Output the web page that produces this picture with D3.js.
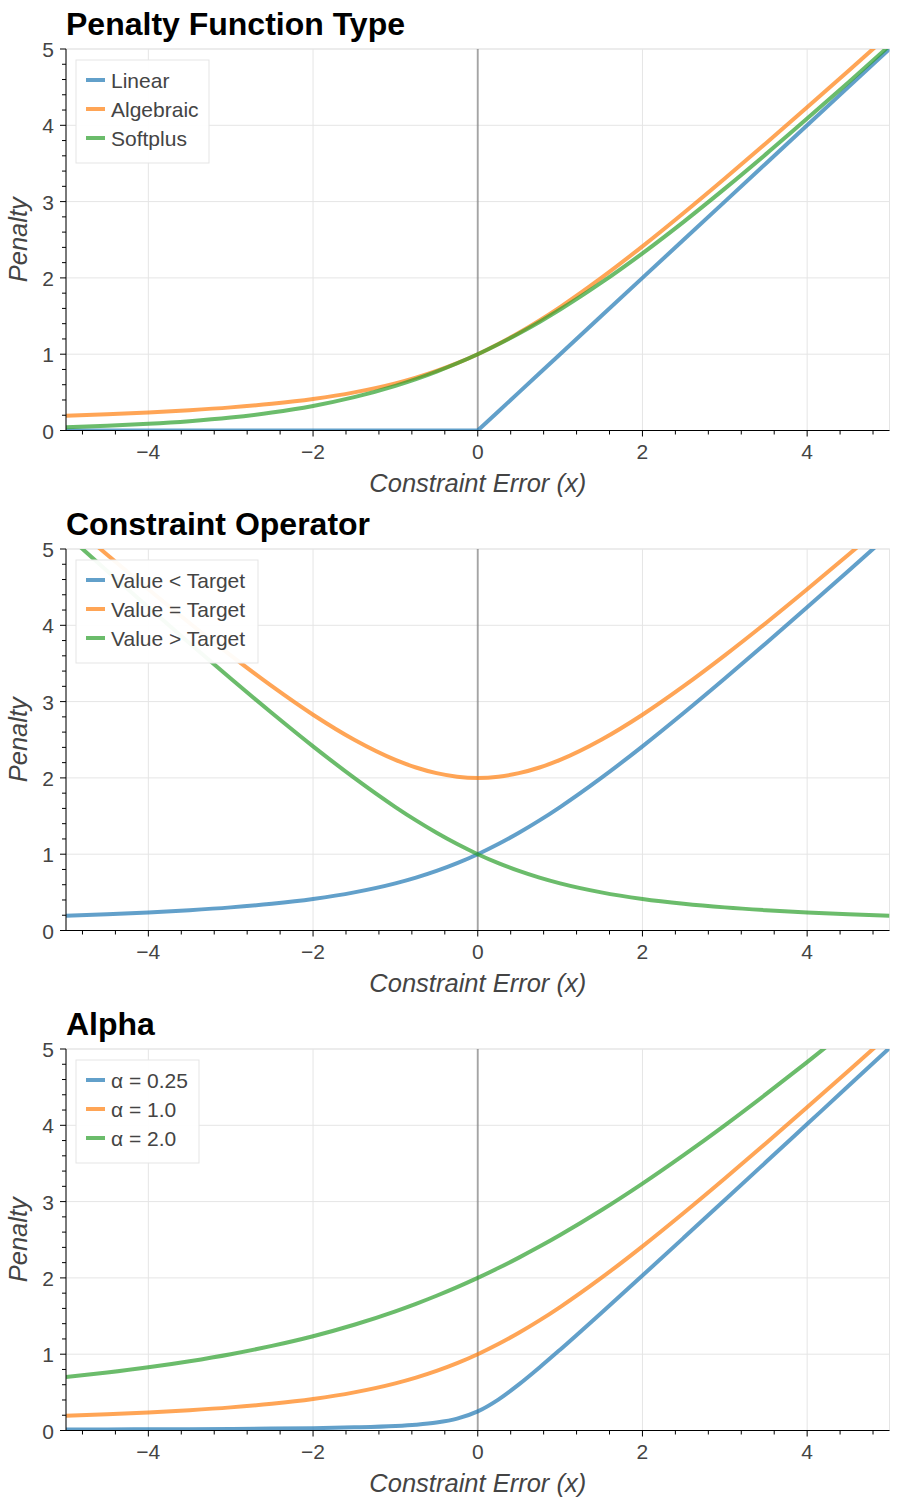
<!DOCTYPE html>
<html>
<head>
<meta charset="utf-8">
<script src="https://cdn.jsdelivr.net/npm/d3@7"></script>
<style>
  body { margin: 0; background: #fff; }
  svg text { font-family: "Liberation Sans", Arial, Helvetica, sans-serif; }
</style>
</head>
<body>
<div id="chart"></div>
<script>
const xValues = [-5, -4.5, -4, -3.5, -3, -2.5, -2, -1.5, -1, -0.75, -0.5, -0.25, 0,
    0.25, 0.5, 0.75, 1, 1.5, 2, 2.5, 3, 3.5, 4, 4.5, 5];

// Panel 1: Penalty Function Type
const linearValues = [0, 0, 0, 0, 0, 0, 0, 0, 0, 0, 0, 0, 0,
    0.25, 0.5, 0.75, 1, 1.5, 2, 2.5, 3, 3.5, 4, 4.5, 5];
const algebraicValues = [0.193, 0.212, 0.236, 0.266, 0.303, 0.351, 0.414, 0.5, 0.618, 0.693, 0.781, 0.883, 1,
    1.133, 1.281, 1.443, 1.618, 2.0, 2.414, 2.851, 3.303, 3.766, 4.236, 4.712, 5.193];
const softplusValues = [0.044, 0.062, 0.087, 0.122, 0.170, 0.235, 0.322, 0.437, 0.585, 0.673, 0.772, 0.881, 1,
    1.131, 1.272, 1.423, 1.585, 1.937, 2.322, 2.735, 3.170, 3.622, 4.088, 4.562, 5.044];

// Panel 2: Constraint Operator
const lessValues = [0.193, 0.212, 0.236, 0.266, 0.303, 0.351, 0.414, 0.5, 0.618, 0.693, 0.781, 0.883, 1,
    1.133, 1.281, 1.443, 1.618, 2.0, 2.414, 2.851, 3.303, 3.766, 4.236, 4.712, 5.193];
const equalValues = [5.385, 4.924, 4.472, 4.031, 3.606, 3.202, 2.828, 2.5, 2.236, 2.136, 2.062, 2.016, 2,
    2.016, 2.062, 2.136, 2.236, 2.5, 2.828, 3.202, 3.606, 4.031, 4.472, 4.924, 5.385];
const greaterValues = [5.193, 4.712, 4.236, 3.766, 3.303, 2.851, 2.414, 2.0, 1.618, 1.443, 1.281, 1.133, 1,
    0.883, 0.781, 0.693, 0.618, 0.5, 0.414, 0.351, 0.303, 0.266, 0.236, 0.212, 0.193];

// Panel 3: Alpha
const alpha025Values = [0.013, 0.014, 0.016, 0.018, 0.021, 0.025, 0.031, 0.041, 0.059, 0.076, 0.104, 0.155, 0.25,
    0.405, 0.604, 0.826, 1.059, 1.541, 2.031, 2.525, 3.021, 3.518, 4.016, 4.514, 5.013];
const alpha1Values = [0.193, 0.212, 0.236, 0.266, 0.303, 0.351, 0.414, 0.5, 0.618, 0.693, 0.781, 0.883, 1,
    1.133, 1.281, 1.443, 1.618, 2.0, 2.414, 2.851, 3.303, 3.766, 4.236, 4.712, 5.193];
const alpha2Values = [0.702, 0.760, 0.828, 0.908, 1.0, 1.109, 1.236, 1.386, 1.562, 1.660, 1.766, 1.879, 2,
    2.129, 2.266, 2.410, 2.562, 2.886, 3.236, 3.609, 4.0, 4.408, 4.828, 5.260, 5.702];

// Panel titles and legend labels
const panelTitles = ["Penalty Function Type", "Constraint Operator", "Alpha"];
const legendLabels = [
    ["Linear", "Algebraic", "Softplus"],
    ["Value < Target", "Value = Target", "Value > Target"],
    ["α = 0.25", "α = 1.0", "α = 2.0"]
];
const panelSeries = [
    [linearValues, algebraicValues, softplusValues],
    [lessValues, equalValues, greaterValues],
    [alpha025Values, alpha1Values, alpha2Values]
];

const xTicks = [-4, -2, 0, 2, 4];
const yTicks = [0, 1, 2, 3, 4, 5];

const colors = ["#1f77b4", "#ff7f0e", "#2ca02c"];

// Overall sizes
const width = 900, height = 1500;
const panelPitch = 500;
const margin = { top: 49, left: 66, right: 10 };
const plotHeight = 381.5;
const plotWidth = width - margin.left - margin.right - 0.5;

const svg = d3.select("#chart").append("svg")
    .attr("width", width)
    .attr("height", height);

// Scales shared by all panels
const xScale = d3.scaleLinear().domain([-5, 5]).range([0, plotWidth]);
const yScale = d3.scaleLinear().domain([0, 5]).range([plotHeight, 0]);

// Minor tick positions
const xMinor = d3.range(-12, 13).map(i => i * 0.4).filter(v => v >= -5.001 && v <= 5.001 && Math.abs(v / 2 - Math.round(v / 2)) > 0.01);
const yMinor = d3.range(0, 26).map(i => i * 0.2).filter(v => Math.abs(v - Math.round(v)) > 0.01);

const fmt = d => d < 0 ? "\u2212" + Math.abs(d) : String(d);

panelTitles.forEach((title, p) => {
    const top = margin.top + p * panelPitch;
    const g = svg.append("g")
        .attr("transform", `translate(${margin.left},${top})`);

    // Title
    svg.append("text")
        .attr("x", margin.left)
        .attr("y", top - 14)
        .attr("font-size", 32)
        .attr("font-weight", "bold")
        .attr("fill", "#000")
        .text(title);

    // Grid
    g.selectAll(".xgrid").data(xTicks).enter().append("line")
        .attr("x1", d => xScale(d)).attr("x2", d => xScale(d))
        .attr("y1", 0).attr("y2", plotHeight)
        .attr("stroke", "#e5e5e5");
    g.selectAll(".ygrid").data(yTicks).enter().append("line")
        .attr("x1", 0).attr("x2", plotWidth)
        .attr("y1", d => yScale(d)).attr("y2", d => yScale(d))
        .attr("stroke", "#e5e5e5");

    // Outline
    g.append("rect")
        .attr("width", plotWidth).attr("height", plotHeight)
        .attr("fill", "none").attr("stroke", "#e5e5e5");

    // Zero line
    g.append("line")
        .attr("x1", xScale(0)).attr("x2", xScale(0))
        .attr("y1", 0).attr("y2", plotHeight)
        .attr("stroke", "#000").attr("stroke-opacity", 0.3)
        .attr("stroke-width", 2);

    // Clip path for curves
    const clipId = "clip" + p;
    g.append("clipPath").attr("id", clipId)
        .append("rect").attr("width", plotWidth).attr("height", plotHeight);

    const smoothLine = d3.line()
        .x((d, i) => xScale(xValues[i]))
        .y(d => yScale(d))
        .curve(d3.curveMonotoneX);
    // the linear penalty has a sharp corner at 0
    const straightLine = d3.line()
        .x((d, i) => xScale(xValues[i]))
        .y(d => yScale(d));

    const curves = g.append("g").attr("clip-path", `url(#${clipId})`);
    panelSeries[p].forEach((vals, s) => {
        curves.append("path")
            .datum(vals)
            .attr("d", vals === linearValues ? straightLine : smoothLine)
            .attr("fill", "none")
            .attr("stroke", colors[s])
            .attr("stroke-opacity", 0.7)
            .attr("stroke-width", 4);
    });

    // X axis
    const xAxisG = g.append("g").attr("transform", `translate(0,${plotHeight})`);
    xAxisG.append("line").attr("x1", 0).attr("x2", plotWidth).attr("stroke", "#000");
    xAxisG.selectAll(".major").data(xTicks).enter().append("line")
        .attr("x1", d => xScale(d)).attr("x2", d => xScale(d))
        .attr("y1", 0).attr("y2", 6).attr("stroke", "#000");
    xAxisG.selectAll(".minor").data(xMinor).enter().append("line")
        .attr("x1", d => xScale(d)).attr("x2", d => xScale(d))
        .attr("y1", 0).attr("y2", 4).attr("stroke", "#000");
    xAxisG.selectAll(".lbl").data(xTicks).enter().append("text")
        .attr("x", d => xScale(d))
        .attr("y", 28.5)
        .attr("text-anchor", "middle")
        .attr("font-size", 21)
        .attr("fill", "#444")
        .text(fmt);
    xAxisG.append("text")
        .attr("x", xScale(0))
        .attr("y", 61.5)
        .attr("text-anchor", "middle")
        .attr("font-size", 25.5)
        .attr("font-style", "italic")
        .attr("fill", "#444")
        .text("Constraint Error (x)");

    // Y axis
    const yAxisG = g.append("g");
    yAxisG.append("line").attr("y1", 0).attr("y2", plotHeight).attr("stroke", "#000");
    yAxisG.selectAll(".major").data(yTicks).enter().append("line")
        .attr("y1", d => yScale(d)).attr("y2", d => yScale(d))
        .attr("x1", -6).attr("x2", 0).attr("stroke", "#000");
    yAxisG.selectAll(".minor").data(yMinor).enter().append("line")
        .attr("y1", d => yScale(d)).attr("y2", d => yScale(d))
        .attr("x1", -4).attr("x2", 0).attr("stroke", "#000");
    yAxisG.selectAll(".lbl").data(yTicks).enter().append("text")
        .attr("x", -12)
        .attr("y", d => yScale(d) + 8)
        .attr("text-anchor", "end")
        .attr("font-size", 21)
        .attr("fill", "#444")
        .text(fmt);
    yAxisG.append("text")
        .attr("transform", `translate(-39,${plotHeight / 2}) rotate(-90)`)
        .attr("text-anchor", "middle")
        .attr("font-size", 25.5)
        .attr("font-style", "italic")
        .attr("fill", "#444")
        .text("Penalty");

    // Legend
    const labels = legendLabels[p];
    const legendW = p === 1 ? 182 : (p === 0 ? 133 : 123);
    const legend = g.append("g").attr("transform", "translate(10,11)");
    legend.append("rect")
        .attr("width", legendW).attr("height", 103)
        .attr("fill", "#fff").attr("fill-opacity", 0.95)
        .attr("stroke", "#e5e5e5");
    labels.forEach((lab, i) => {
        const ly = 20 + i * 29;
        legend.append("line")
            .attr("x1", 10).attr("x2", 29)
            .attr("y1", ly).attr("y2", ly)
            .attr("stroke", colors[i]).attr("stroke-opacity", 0.7)
            .attr("stroke-width", 4);
        legend.append("text")
            .attr("x", 35).attr("y", ly + 7.5)
            .attr("font-size", 21)
            .attr("fill", "#444")
            .text(lab);
    });
});
</script>
</body>
</html>
